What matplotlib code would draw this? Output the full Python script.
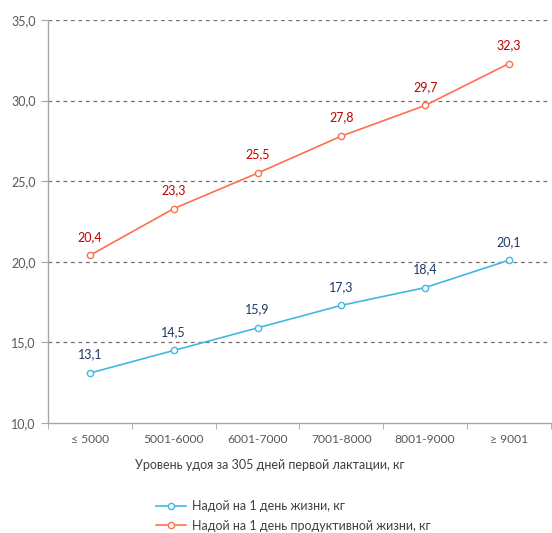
import matplotlib
matplotlib.use("Agg")
import matplotlib.pyplot as plt
import numpy as np

categories = ["≤ 5000", "5001-6000", "6001-7000", "7001-8000", "8001-9000", "≥ 9001"]
life = [13.1, 14.5, 15.9, 17.3, 18.4, 20.1]
productive = [20.4, 23.3, 25.5, 27.8, 29.7, 32.3]
yticks = [10, 15, 20, 25, 30, 35]

plt.rcParams['font.family'] = ['Lato', 'DejaVu Sans']

fig = plt.figure(figsize=(5.52, 5.33), dpi=100)
ax = fig.add_axes([48/552, 1-423/533, 1-48/552-0.002, (423-20)/533])

x = np.arange(len(categories))
blue = "#41B8E4"
orange = "#FF6F4F"
ax.plot(x, life, color=blue, lw=1.2, marker='o', ms=4.5, mfc='white', mec=blue, mew=1.0,
        label="Надой на 1 день жизни, кг", zorder=3)
ax.plot(x, productive, color=orange, lw=1.2, marker='o', ms=4.5, mfc='white', mec=orange, mew=1.0,
        label="Надой на 1 день продуктивной жизни, кг", zorder=3)

for xi, v in zip(x, life):
    ax.annotate(f"{v:.1f}".replace('.', ','), (xi, v), xytext=(0, 9), textcoords='offset points',
                ha='center', va='bottom', color="#1F3864", fontsize=9)
for xi, v in zip(x, productive):
    ax.annotate(f"{v:.1f}".replace('.', ','), (xi, v), xytext=(0, 9), textcoords='offset points',
                ha='center', va='bottom', color="#C00000", fontsize=9)

ax.set_xlim(-0.5, len(categories) - 0.5)
ax.set_ylim(10, 35)
ax.set_yticks(yticks)
ax.set_yticklabels([f"{t:.1f}".replace('.', ',') for t in yticks], fontsize=9, color="#595959")
ax.set_xticks(x)
ax.set_xticklabels(categories, fontsize=8.7, color="#595959")
ax.set_xticks(np.arange(len(categories) + 1) - 0.5, minor=True)
ax.tick_params(axis='x', which='major', length=0, pad=8)
ax.tick_params(axis='x', which='minor', length=4, color="#A6A6A6", direction='out')
ax.tick_params(axis='y', length=5, color="#A6A6A6", pad=4)

for t in [15, 20, 25, 30, 35]:
    ax.axhline(t, color="#707070", lw=0.9, ls=(0, (3, 3)), zorder=1)

for s in ['top', 'right']:
    ax.spines[s].set_visible(False)
ax.spines['left'].set_color("#A6A6A6")
ax.spines['bottom'].set_color("#A6A6A6")
ax.spines['left'].set_linewidth(1.0)
ax.spines['bottom'].set_linewidth(1.0)

ax.set_xlabel("Уровень удоя за 305 дней первой лактации, кг", fontsize=9, color="#404040")
ax.xaxis.set_label_coords((270 - 48) / 504, -(465 - 423) / 403)
ax.xaxis.label.set_va('center')

leg = fig.legend(loc='center', bbox_to_anchor=(293/552, 1-516/533), frameon=False, fontsize=9,
                 handlelength=2.4, handletextpad=0.5, labelspacing=0.6, labelcolor="#404040")

fig.savefig("out.png", dpi=100)
